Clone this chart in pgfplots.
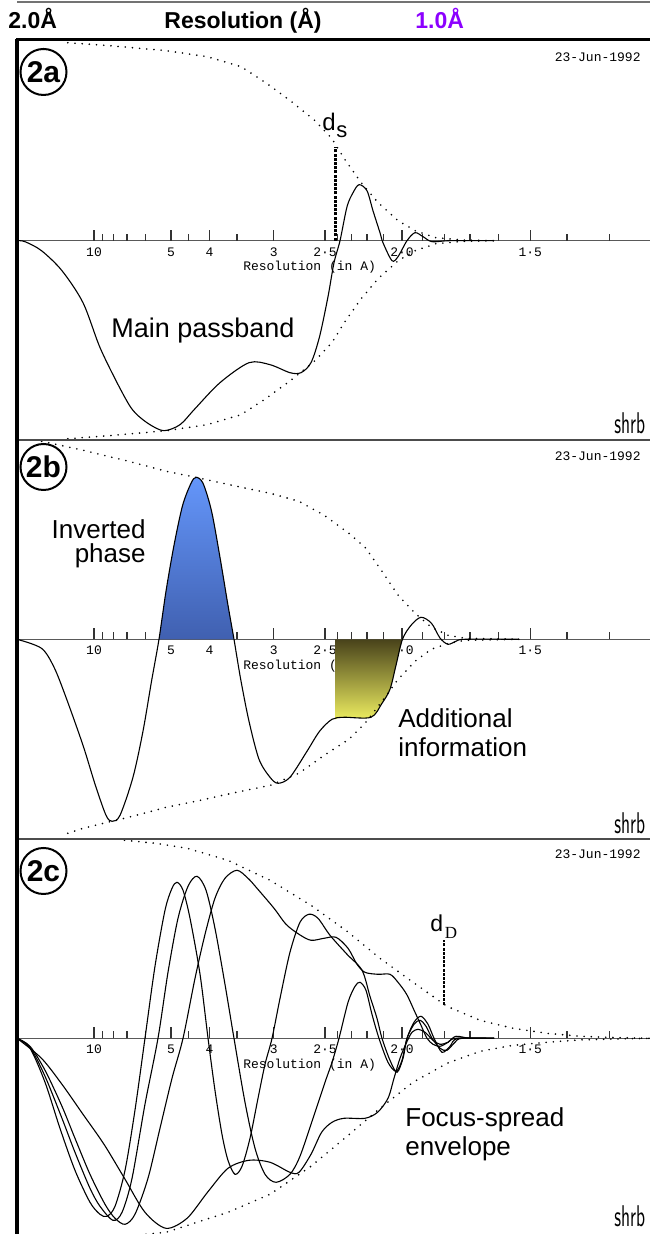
\documentclass[border=0pt]{standalone}
\usepackage{fontspec}
\setmainfont{Liberation Sans}
\setmonofont{Liberation Mono}
\newfontfamily\serifD{Liberation Serif}
\usepackage{pgfplots}
\pgfplotsset{compat=1.18}
\definecolor{hdrviolet}{RGB}{140,0,255}
\definecolor{blueT}{RGB}{100,150,250}
\definecolor{blueB}{RGB}{64,96,176}
\definecolor{olT}{RGB}{72,66,26}
\definecolor{olB}{RGB}{236,236,96}
\tikzset{tk/.style={black!80, line width=0.6pt}}
\pgfplotsset{
 panel/.style={
  anchor=south west, scale only axis, width=316.5pt, height=200pt,
  xmin=0, xmax=0.8221, ymin=-1, ymax=1,
  axis x line=middle, axis y line=none, ytick=\empty,
  x axis line style={-, draw=black!65, line width=0.75pt},
  xtick={0.1,0.2,0.25,0.333333,0.4,0.5,0.666667},
  xticklabels={10,5,4,3,2·5,2·0,1·5},
  major tick length=0pt, minor tick length=0pt,
  xticklabel style={font=\ttfamily\fontsize{6.5}{7}\selectfont, inner sep=0pt, anchor=north, yshift=-3.2pt},
 },
 env/.style={black, line width=0.9pt, line cap=round, dash pattern=on 0pt off 3.6pt},
 crv/.style={black, line width=0.55pt, smooth},
 mk/.style={black, line width=1.3pt, dash pattern=on 1.5pt off 0.6pt},
}
\newcommand{\reslabel}{\node[font=\ttfamily\fontsize{6.5}{7}\selectfont, inner sep=0pt] at (axis cs:0.38,-0.132) {Resolution (in A)};}
\newcommand{\ticks}{%
 \pgfplotsinvokeforeach{0.1,0.2,0.25,0.333333,0.4,0.5,0.666667}{\draw[tk] (axis cs:##1,0) -- ++(0pt,5.5pt);}%
 \pgfplotsinvokeforeach{0.111111,0.125,0.142857,0.166667,0.222222,0.285714,0.416667,0.434783,0.454545,0.476190,0.526316,0.555556,0.588235,0.625,0.714286,0.769231}{\draw[tk] (axis cs:##1,0) -- ++(0pt,3.5pt);}%
}
\begin{document}
\begin{tikzpicture}
\useasboundingbox (0,0) rectangle (325pt,617pt);
\fill[white] (0,0) rectangle (325pt,617pt);

% ---------------- panel 2a
\begin{axis}[panel, at={(8.5pt,396.65pt)}]
\ticks
\reslabel
\addplot[env] coordinates {(0.066,0.99) (0.12,0.975) (0.194,0.95) (0.247,0.92) (0.291,0.87) (0.323,0.79) (0.355,0.70) (0.387,0.60) (0.409,0.51) (0.425,0.41) (0.447,0.29) (0.469,0.19) (0.495,0.10) (0.517,0.05) (0.544,0.015) (0.58,0.003) (0.62,0)};
\addplot[env] coordinates {(0.066,-0.99) (0.12,-0.975) (0.194,-0.95) (0.247,-0.92) (0.291,-0.87) (0.323,-0.79) (0.355,-0.70) (0.387,-0.60) (0.409,-0.51) (0.425,-0.41) (0.447,-0.29) (0.469,-0.19) (0.495,-0.10) (0.517,-0.05) (0.544,-0.015) (0.58,-0.003) (0.62,0)};
\addplot[crv] coordinates {(0,0) (0.0104,-0.005) (0.0318,-0.05) (0.0584,-0.15) (0.0857,-0.31) (0.1073,-0.53) (0.1286,-0.70) (0.1455,-0.82) (0.1558,-0.87) (0.1727,-0.92) (0.1909,-0.95) (0.2117,-0.92) (0.2312,-0.84) (0.2636,-0.71) (0.3013,-0.61) (0.3286,-0.62) (0.3545,-0.66) (0.3688,-0.66) (0.3818,-0.61) (0.3929,-0.48) (0.4039,-0.28) (0.4117,-0.11) (0.4195,0) (0.4286,0.17) (0.4364,0.24) (0.4442,0.28) (0.4545,0.25) (0.4623,0.15) (0.4714,0.04) (0.4753,-0.01) (0.4870,-0.10) (0.4948,-0.08) (0.5065,0) (0.5169,0.04) (0.5273,0.02) (0.5390,-0.005) (0.5623,0) (0.6195,0)};
\addplot[mk] coordinates {(0.414,0) (0.414,0.47)};
\end{axis}

% ---------------- panel 2b
\begin{axis}[panel, at={(8.5pt,197.35pt)}]
\ticks
\reslabel
\addplot[draw=none, top color=blueT, bottom color=blueB, smooth] coordinates {(0.1844,0) (0.1935,0.24) (0.2039,0.47) (0.2151,0.67) (0.2260,0.78) (0.2325,0.81) (0.2416,0.78) (0.2527,0.64) (0.2636,0.41) (0.2740,0.17) (0.2818,0)} \closedcycle;
\addplot[draw=none, top color=olT, bottom color=olB, smooth] coordinates {(0.4130,-0.40) (0.4247,-0.39) (0.4597,-0.39) (0.4740,-0.32) (0.4844,-0.25) (0.4922,-0.13) (0.5006,0)} \closedcycle;
\addplot[env] coordinates {(0.032,0.99) (0.086,0.945) (0.123,0.91) (0.140,0.895) (0.194,0.84) (0.232,0.81) (0.279,0.77) (0.329,0.73) (0.366,0.69) (0.399,0.62) (0.431,0.53) (0.452,0.46) (0.474,0.34) (0.495,0.22) (0.517,0.13) (0.538,0.06) (0.560,0.02) (0.582,0.005) (0.652,0)};
\addplot[env] coordinates {(0.066,-0.97) (0.086,-0.945) (0.123,-0.91) (0.140,-0.895) (0.194,-0.84) (0.232,-0.81) (0.279,-0.77) (0.329,-0.73) (0.366,-0.67) (0.399,-0.58) (0.431,-0.50) (0.452,-0.42) (0.474,-0.31) (0.495,-0.20) (0.517,-0.11) (0.538,-0.05) (0.560,-0.02) (0.582,-0.005) (0.652,0)};
\addplot[crv] coordinates {(0,0) (0.0318,-0.045) (0.0481,-0.14) (0.0636,-0.29) (0.0857,-0.53) (0.1018,-0.73) (0.1156,-0.88) (0.1234,-0.91) (0.1338,-0.88) (0.1506,-0.69) (0.1636,-0.46) (0.1747,-0.21) (0.1844,0) (0.1935,0.24) (0.2039,0.47) (0.2151,0.67) (0.2260,0.78) (0.2325,0.81) (0.2416,0.78) (0.2527,0.64) (0.2636,0.41) (0.2740,0.17) (0.2818,0) (0.2905,-0.20) (0.3013,-0.41) (0.3143,-0.60) (0.3286,-0.69) (0.3390,-0.72) (0.3545,-0.69) (0.3766,-0.56) (0.3929,-0.46) (0.4091,-0.40) (0.4247,-0.39) (0.4597,-0.39) (0.4740,-0.32) (0.4844,-0.25) (0.4922,-0.13) (0.5006,0) (0.5117,0.07) (0.5247,0.11) (0.5383,0.08) (0.5494,0.006) (0.5597,-0.025) (0.5701,-0.01) (0.5818,0) (0.6519,0)};
\end{axis}

% ---------------- panel 2c
\begin{axis}[panel, at={(8.5pt,-2.15pt)}]
\ticks
\reslabel
\addplot[env] coordinates {(0.1396,0.99) (0.18,0.975) (0.2208,0.95) (0.274,0.89) (0.3286,0.79) (0.3818,0.665) (0.4286,0.535) (0.4714,0.40) (0.5143,0.28) (0.5584,0.16) (0.6013,0.09) (0.6442,0.05) (0.6883,0.025) (0.7312,0.01) (0.7831,0.003) (0.8221,0)};
\addplot[env] coordinates {(0.1396,-0.99) (0.1935,-0.97) (0.274,-0.87) (0.3286,-0.78) (0.3818,-0.64) (0.4286,-0.49) (0.4714,-0.35) (0.5143,-0.22) (0.5584,-0.125) (0.6013,-0.065) (0.6442,-0.035) (0.6883,-0.02) (0.7312,-0.008) (0.7831,-0.003) (0.8221,0)};
% curve A
\addplot[crv] coordinates {(0,0) (0.0169,-0.05) (0.0364,-0.22) (0.0558,-0.45) (0.0753,-0.66) (0.0948,-0.82) (0.1078,-0.88) (0.1169,-0.89) (0.1273,-0.84) (0.1403,-0.66) (0.1532,-0.36) (0.1662,0) (0.1792,0.36) (0.1922,0.64) (0.2013,0.75) (0.2078,0.78) (0.2156,0.74) (0.2247,0.60) (0.2377,0.32) (0.2481,0) (0.2571,-0.26) (0.2662,-0.48) (0.2740,-0.61) (0.2831,-0.68) (0.2922,-0.64) (0.3026,-0.50) (0.3130,-0.30) (0.3221,-0.13) (0.3312,0) (0.3416,0.20) (0.3545,0.43) (0.3675,0.58) (0.3792,0.62) (0.3909,0.60) (0.4065,0.515) (0.4286,0.42) (0.4481,0.34) (0.4584,0.21) (0.4675,0.10) (0.4740,0) (0.4844,-0.11) (0.4935,-0.17) (0.5013,-0.10) (0.5065,0) (0.5156,0.08) (0.5247,0.11) (0.5338,0.07) (0.5416,0) (0.5519,-0.07) (0.5623,-0.04) (0.5727,0) (0.6195,0)};
% curve B
\addplot[crv] coordinates {(0,0) (0.0169,-0.045) (0.0364,-0.19) (0.0584,-0.40) (0.0753,-0.57) (0.0948,-0.75) (0.1078,-0.84) (0.1247,-0.91) (0.1364,-0.87) (0.1494,-0.70) (0.1662,-0.33) (0.1831,0) (0.1961,0.33) (0.2091,0.60) (0.2221,0.76) (0.2338,0.81) (0.2455,0.74) (0.2571,0.55) (0.2701,0.27) (0.2818,0) (0.2961,-0.32) (0.3091,-0.55) (0.3221,-0.68) (0.3364,-0.72) (0.3545,-0.68) (0.3675,-0.59) (0.3844,-0.40) (0.4000,-0.22) (0.4091,-0.12) (0.4182,0) (0.4299,0.18) (0.4390,0.26) (0.4455,0.28) (0.4532,0.24) (0.4610,0.12) (0.4701,0) (0.4818,-0.12) (0.4922,-0.165) (0.5000,-0.11) (0.5065,0) (0.5156,0.07) (0.5234,0.09) (0.5312,0.06) (0.5390,0) (0.5494,-0.05) (0.5584,-0.06) (0.5688,-0.02) (0.5779,0) (0.6195,0)};
% curve C
\addplot[crv] coordinates {(0,0) (0.0169,-0.04) (0.0364,-0.16) (0.0584,-0.34) (0.0753,-0.50) (0.0948,-0.68) (0.1143,-0.83) (0.1273,-0.90) (0.1403,-0.93) (0.1532,-0.88) (0.1701,-0.70) (0.1857,-0.45) (0.2013,-0.20) (0.2156,0) (0.2312,0.30) (0.2442,0.52) (0.2571,0.70) (0.2701,0.80) (0.2857,0.84) (0.3000,0.80) (0.3117,0.75) (0.3338,0.65) (0.3494,0.57) (0.3662,0.52) (0.3818,0.49) (0.3987,0.50) (0.4143,0.505) (0.4299,0.45) (0.4416,0.37) (0.4519,0.33) (0.4688,0.32) (0.4844,0.32) (0.4948,0.28) (0.5060,0.22) (0.5169,0.13) (0.5247,0.065) (0.5325,0) (0.5403,-0.03) (0.5494,-0.04) (0.5597,-0.02) (0.5701,0.01) (0.5883,0) (0.6195,0)};
% curve D
\addplot[crv] coordinates {(0,0) (0.0318,-0.10) (0.0584,-0.23) (0.0857,-0.38) (0.1130,-0.53) (0.1396,-0.70) (0.1662,-0.87) (0.1935,-0.95) (0.2208,-0.90) (0.2474,-0.77) (0.2740,-0.65) (0.3013,-0.61) (0.3286,-0.62) (0.3545,-0.67) (0.3662,-0.67) (0.3818,-0.58) (0.3956,-0.47) (0.4091,-0.42) (0.4247,-0.40) (0.4519,-0.40) (0.4683,-0.37) (0.4818,-0.30) (0.4896,-0.20) (0.4974,-0.10) (0.5060,-0.02) (0.5130,0.03) (0.5208,0.045) (0.5299,0.03) (0.5403,-0.01) (0.5494,-0.03) (0.5597,-0.02) (0.5701,0) (0.6195,0)};
\addplot[mk, line width=1pt] coordinates {(0.555,0.165) (0.555,0.49)};
\end{axis}

% ---------------- frame and text (pixel coordinates)
\begin{scope}[x=0.5pt,y=-0.5pt,shift={(0pt,617pt)}]
\draw[black!55, line width=0.6pt] (17,2) -- (650,2);
\draw[black!70, line width=0.6pt] (17,440) -- (650,440);
\draw[black!70, line width=0.6pt] (17,839) -- (650,839);
\draw[black, line width=1.5pt] (16,40) -- (650,40);
\draw[black, line width=2pt] (17,39.3) -- (17,1234);
% header
\node[font=\bfseries\fontsize{11.5}{12}\selectfont, anchor=base west, inner sep=0pt] at (8,28.3) {2.0Å};
\node[font=\bfseries\fontsize{11.5}{12}\selectfont, anchor=base, inner sep=0pt] at (243,28.3) {Resolution (Å)};
\node[font=\bfseries\fontsize{11.5}{12}\selectfont, anchor=base west, inner sep=0pt, text=hdrviolet] at (415,28.3) {1.0Å};
% panel badges
\foreach \cy/\lab in {72/2a,467/2b,871/2c}{
  \draw[black, line width=1pt] (43.5,\cy) circle[radius=11.5pt];
  \node[font=\bfseries\fontsize{15}{15}\selectfont, inner sep=0pt] at (43.5,\cy) {\lab};
}
% dates
\foreach \cy in {57,456,854}{
  \node[font=\ttfamily\fontsize{6.5}{7}\selectfont, anchor=east, inner sep=0pt] at (641,\cy) {23-Jun-1992};
}
% logos
\foreach \by in {434,834,1226}{
  \node[font=\sffamily\fontsize{15}{15}\selectfont, anchor=base west, inner sep=0pt, xscale=0.6] at (614,\by) {shrb};
}
% annotations
\node[font=\fontsize{13.5}{14}\selectfont, anchor=base, inner sep=0pt] at (203,338) {Main passband};
\node[font=\fontsize{13}{14}\selectfont, anchor=base east, inner sep=0pt] at (146,539) {Inverted};
\node[font=\fontsize{13}{14}\selectfont, anchor=base east, inner sep=0pt] at (146,563) {phase};
\node[font=\fontsize{13}{14}\selectfont, anchor=base west, inner sep=0pt] at (398,728) {Additional};
\node[font=\fontsize{13}{14}\selectfont, anchor=base west, inner sep=0pt] at (398,757) {information};
\node[font=\fontsize{13}{14}\selectfont, anchor=base west, inner sep=0pt] at (405,1127) {Focus-spread};
\node[font=\fontsize{13}{14}\selectfont, anchor=base west, inner sep=0pt] at (405,1156) {envelope};
% d_s and d_D labels
\node[font=\fontsize{12}{12}\selectfont, anchor=base west, inner sep=0pt] at (322,131) {d};
\node[font=\fontsize{11}{11}\selectfont, anchor=base west, inner sep=0pt] at (336,138) {s};
\node[font=\fontsize{11.5}{12}\selectfont, anchor=base west, inner sep=0pt] at (430,932) {d};
\node[font=\serifD\fontsize{8.5}{9}\selectfont, anchor=base west, inner sep=0pt] at (444.5,939) {D};
\end{scope}
\end{tikzpicture}
\end{document}
